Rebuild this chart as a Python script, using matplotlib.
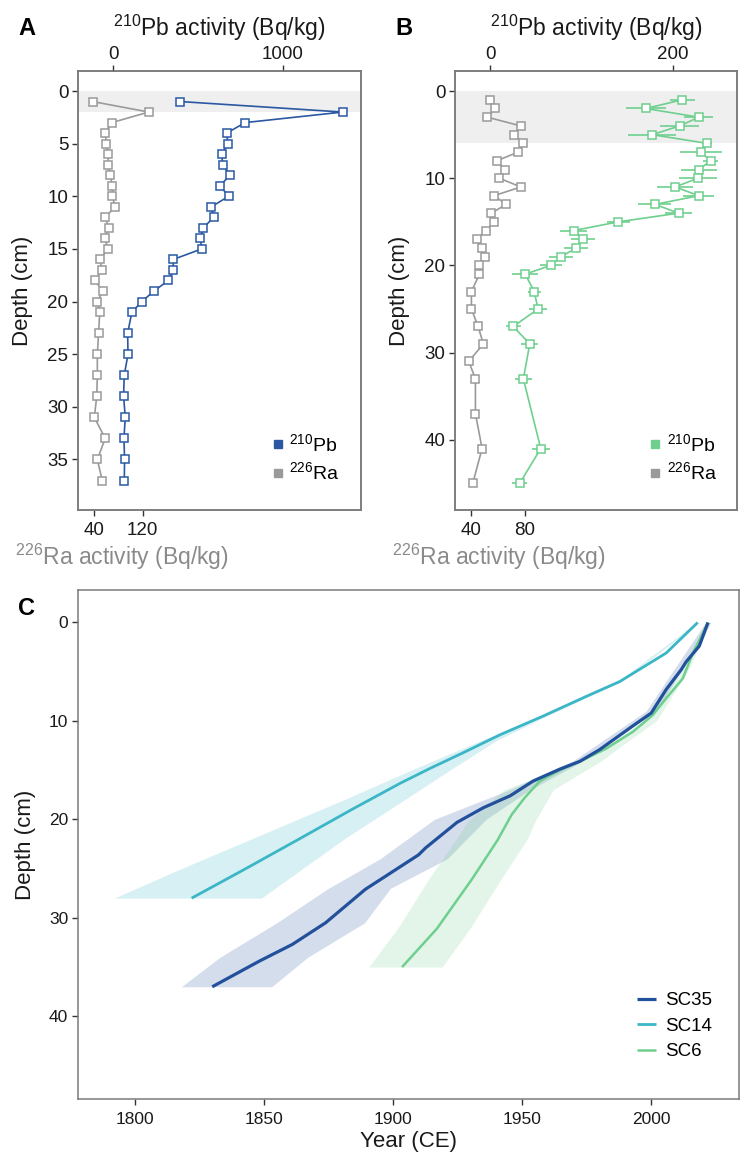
import numpy as np
import matplotlib
matplotlib.use("Agg")
from matplotlib import pyplot as plt
from matplotlib.lines import Line2D

plt.rcParams['font.family'] = ['Liberation Sans', 'DejaVu Sans']
plt.rcParams['mathtext.fontset'] = 'custom'
plt.rcParams['mathtext.rm'] = 'Liberation Sans'
plt.rcParams['mathtext.default'] = 'rm'

# ---- panel A data (core SC35) ----
depth_a = [1, 2, 3, 4, 5, 6, 7, 8, 9, 10, 11, 12, 13, 14, 15, 16, 17, 18, 19, 20, 21,
           23, 25, 27, 29, 31, 33, 35, 37]
pb_a = [394, 1354, 779, 669, 677, 640, 646, 689, 630, 681, 579, 593, 531, 514, 522,
        354, 354, 325, 240, 169, 110, 85, 87, 65, 61, 71, 63, 67, 65]
ra_a = [37, 130, 69, 58, 60, 63, 63, 66, 70, 70, 74, 58, 64, 57, 63, 49, 53, 41, 54,
        45, 49, 47, 45, 45, 44, 40, 58, 45, 53]

# ---- panel B data (core SC6) ----
depth_b_pb = [1, 2, 3, 4, 5, 6, 7, 8, 9, 10, 11, 12, 13, 14, 15, 16, 17, 18, 19, 20, 21,
              23, 25, 27, 29, 33, 41, 45]
pb_b = [210, 170, 228, 207, 177, 237, 230, 241, 228, 227, 202, 228, 180, 206, 140, 91,
        101, 94, 77, 66, 38, 48, 52, 25, 43, 36, 55, 32]
pb_b_err = [14, 22, 16, 21, 26, 5, 23, 8, 20, 21, 20, 17, 18, 15, 13, 15, 13, 13, 13,
            12, 14, 7, 9.5, 8.5, 9.5, 9, 10, 8]
depth_b_ra = [1, 2, 3, 4, 5, 6, 7, 8, 9, 10, 11, 12, 13, 14, 15, 16, 17, 18, 19, 20, 21,
              23, 25, 27, 29, 31, 33, 37, 41, 45]
ra_b = [54, 58, 52, 77, 72, 79, 75, 59, 65, 61, 77, 57, 66, 55, 57, 51, 44, 48, 50, 46,
        46, 40, 40, 45, 49, 38, 43, 43, 48, 41]
ra_b_err = [2] * 30

# ---- panel C data (age-depth models) ----
sc35_depth = [0, 2.4, 4, 4.8, 6.8, 9.2, 10.5, 12.9, 14.1, 14.9, 16.1, 17.6, 18.8, 20.3,
              22.9, 23.6, 27.1, 30.5, 32.7, 34.4, 37]
sc35_year = [2022, 2018.6, 2013.5, 2011.6, 2005.8, 2000, 1992.9, 1980.1, 1972.4, 1964.6,
             1954.3, 1945.4, 1935.1, 1924.8, 1912.6, 1909.9, 1889.3, 1873.9, 1861, 1848.2, 1830]
sc35_band_depth = [0, 9, 14, 17, 20, 24, 27, 30.5, 34, 37]
sc35_old = [2021, 1998, 1970, 1945, 1916, 1895, 1875, 1855, 1833, 1818]
sc35_young = [2023, 2002, 1974, 1953, 1936, 1921, 1899, 1889, 1867, 1853]

sc14_depth = [0, 3.1, 6, 7.5, 9.5, 11.4, 13.2, 14.8, 16.3, 19, 22, 25, 28]
sc14_year = [2018, 2005.8, 1987.8, 1974.9, 1958.2, 1941.5, 1927.4, 1914.5, 1903, 1884,
             1863.6, 1843, 1822]
sc14_band_depth = [0, 6, 9.5, 12, 15, 18, 22, 25, 28]
sc14_old = [2017.5, 1987, 1957, 1934, 1907, 1881, 1845, 1818, 1792]
sc14_young = [2018.5, 1988.5, 1959.5, 1940, 1922, 1904.5, 1881, 1865, 1849]

sc6_depth = [0, 3.2, 5.7, 7.7, 9.4, 11.1, 12.8, 13.8, 15, 16.1, 17.8, 19.5, 22.1, 26.1,
             31.1, 35]
sc6_year = [2022, 2016, 2012.2, 2005.8, 2000.6, 1992.9, 1982.6, 1974.9, 1964.6, 1956.9,
            1951, 1946, 1940.5, 1930.5, 1917, 1903.5]
sc6_band_depth = [0, 5, 10, 13, 14, 17, 20.2, 22, 26, 31, 35]
sc6_old = [2021.5, 2011, 1997, 1980, 1972, 1943, 1929, 1924.5, 1914, 1902, 1890.6]
sc6_young = [2023, 2014, 2002, 1986, 1981, 1962, 1955, 1952, 1942, 1930, 1919]

# colours
c_blue = '#2a58a3'
c_cyan = '#3bb6c6'
c_green = '#6ecf8e'
c_gray = '#9a9a9a'
c_spine = '#7a7a7a'
c_text = '#1a1a1a'

W, H = 741, 1152
fig = plt.figure(figsize=(W / 100, H / 100), dpi=100)


def box(l, t, r, b):
    return [l / W, 1 - b / H, (r - l) / W, (b - t) / H]


def style(ax, size):
    for s in ax.spines.values():
        s.set_color(c_spine)
        s.set_linewidth(1.1)
    ax.tick_params(direction='out', length=4, width=1, color='#333333',
                   labelsize=size, labelcolor=c_text)


def profile_panel(rect, depth_pb, pb, depth_ra, ra, col, ylim, yticks, pb_lim, pb_ticks,
                  ra_lim, ra_ticks, shade, pb_err=None, ra_err=None, leg_x=0.69):
    ax = fig.add_axes(rect)
    ax.axhspan(0, shade, color='#efefef', lw=0, zorder=0)
    if ra_err is None:
        ax.plot(ra, depth_ra, '-s', color=c_gray, mfc='white', mec=c_gray, ms=5.3,
                mew=1.1, lw=1.2, zorder=3)
    else:
        ax.errorbar(ra, depth_ra, xerr=ra_err, fmt='-s', color=c_gray, mfc='white',
                    mec=c_gray, ms=5.3, mew=1.1, lw=1.2, elinewidth=1.2, capsize=0, zorder=3)
    ax.set_xlim(*ra_lim)
    ax.set_xticks(ra_ticks)
    ax.set_ylim(*ylim)
    ax.set_yticks(yticks)
    style(ax, 13.5)
    ax.tick_params(axis='x', pad=4.5)
    ax.tick_params(axis='y', pad=3)
    ax.set_ylabel('Depth (cm)', fontsize=16, color=c_text)
    ax.yaxis.set_label_coords(-0.158, 0.5)

    ax2 = ax.twiny()
    if pb_err is None:
        ax2.plot(pb, depth_pb, '-s', color=col, mfc='white', mec=col, ms=5.3, mew=1.1,
                 lw=1.2, zorder=4)
    else:
        ax2.errorbar(pb, depth_pb, xerr=pb_err, fmt='-s', color=col, mfc='white', mec=col,
                     ms=5.3, mew=1.1, lw=1.2, elinewidth=1.2, capsize=0, zorder=4)
    ax2.set_xlim(*pb_lim)
    ax2.set_xticks(pb_ticks)
    style(ax2, 13.5)
    ax2.tick_params(axis='x', pad=1.5)
    ax2.set_xlabel('$^{210}$Pb activity (Bq/kg)', fontsize=16.5, color=c_text)
    ax2.xaxis.set_label_coords(0.5, 1.08)

    handles = [Line2D([], [], ls='none', marker='s', ms=6, color=col),
               Line2D([], [], ls='none', marker='s', ms=6, color=c_gray)]
    ax2.legend(handles, ['$^{210}$Pb', '$^{226}$Ra'], loc='center left',
               bbox_to_anchor=(leg_x, 0.118), frameon=False, fontsize=14,
               handlelength=0.6, handletextpad=0.3, labelspacing=0.35,
               borderpad=0, borderaxespad=0)
    return ax, ax2


# Panel A
profile_panel(box(78, 71, 361, 510), depth_a, pb_a, depth_a, ra_a, c_blue,
              (39.8, -1.9), np.arange(0, 36, 5), (-208, 1462), [0, 1000],
              (13, 481), [40, 120], 2, leg_x=0.685)

# Panel B
profile_panel(box(455, 71, 737, 510), depth_b_pb, pb_b, depth_b_ra, ra_b, c_green,
              (48.05, -2.3), np.arange(0, 41, 10), (-38.8, 269.8), [0, 200],
              (27.7, 239), [40, 80], 6, pb_err=pb_b_err, ra_err=ra_b_err, leg_x=0.69)

fig.text(15 / W, 1 - 565 / H, '$^{226}$Ra activity (Bq/kg)', fontsize=16.5,
         color='#8a8a8a', va='baseline')
fig.text(392 / W, 1 - 565 / H, '$^{226}$Ra activity (Bq/kg)', fontsize=16.5,
         color='#8a8a8a', va='baseline')

# Panel C
axc = fig.add_axes(box(78, 590, 739, 1099))
axc.fill_betweenx(sc14_band_depth, sc14_old, sc14_young, color=c_cyan, alpha=0.2, lw=0)
axc.fill_betweenx(sc35_band_depth, sc35_old, sc35_young, color=c_blue, alpha=0.2, lw=0)
axc.fill_betweenx(sc6_band_depth, sc6_old, sc6_young, color=c_green, alpha=0.2, lw=0)
axc.plot(sc14_year, sc14_depth, color=c_cyan, lw=2.0, label='SC14', solid_capstyle='butt')
axc.plot(sc6_year, sc6_depth, color=c_green, lw=1.8, label='SC6', solid_capstyle='butt')
axc.plot(sc35_year, sc35_depth, color='#22509b', lw=2.3, label='SC35', solid_capstyle='butt')
axc.set_xlim(1778, 2034)
axc.set_ylim(48.4, -3.3)
axc.set_xticks([1800, 1850, 1900, 1950, 2000])
axc.set_yticks([0, 10, 20, 30, 40])
style(axc, 12.5)
axc.tick_params(axis='x', pad=5.5)
axc.tick_params(axis='y', pad=3)
axc.set_xlabel('Year (CE)', fontsize=16, color=c_text)
axc.xaxis.set_label_coords(0.5, -0.063)
axc.set_ylabel('Depth (cm)', fontsize=16, color=c_text)
axc.yaxis.set_label_coords(-0.064, 0.5)
h, l = axc.get_legend_handles_labels()
order = [l.index('SC35'), l.index('SC14'), l.index('SC6')]
axc.legend([h[i] for i in order], [l[i] for i in order], loc='center left',
           bbox_to_anchor=(0.846, 0.143), frameon=False, fontsize=13.5,
           handlelength=1.0, handletextpad=0.5, labelspacing=0.45,
           borderpad=0, borderaxespad=0)

# panel letters
for x, y, s in [(18, 35, 'A'), (395, 35, 'B'), (18, 615, 'C')]:
    fig.text(x / W, 1 - y / H, s, fontsize=17, fontweight='bold', va='baseline')

fig.savefig('out.png', dpi=100)
